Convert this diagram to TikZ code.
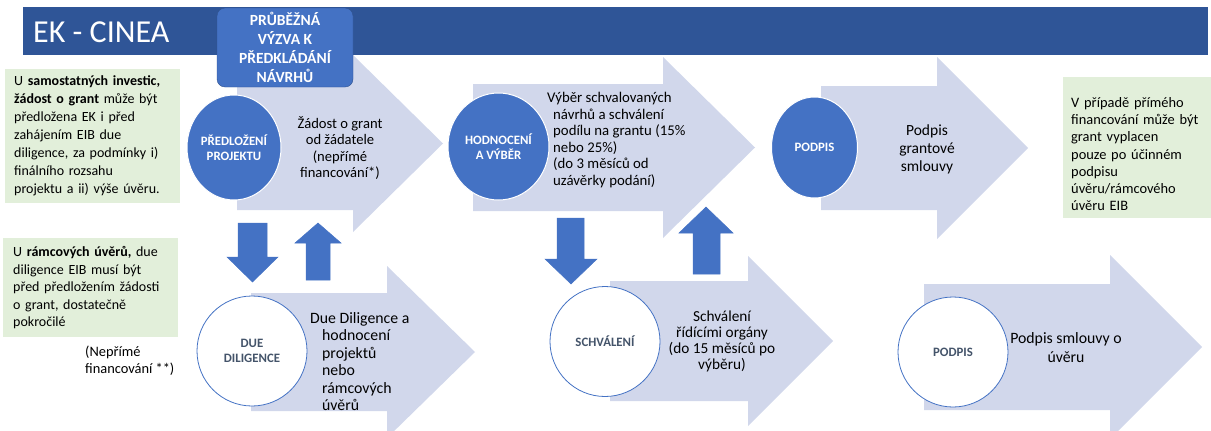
\documentclass[tikz,border=0pt]{standalone}
\usepackage{fontspec}
\setmainfont{Carlito}
\usetikzlibrary{shapes.geometric}

\definecolor{titleblue}{RGB}{47,85,151}
\definecolor{accentblue}{RGB}{68,114,196}
\definecolor{boxedge}{RGB}{47,82,143}
\definecolor{arrowlav}{RGB}{209,215,235}
\definecolor{notegreen}{RGB}{226,239,218}
\definecolor{slate}{RGB}{68,84,106}

\tikzset{
    bigarrow/.style={fill=arrowlav},
    blockarrow/.style={fill=accentblue, draw=accentblue, line width=0.5pt},
    fullcirc/.style={ellipse, fill=accentblue, draw=white, line width=1pt, text=white,
        inner sep=0pt, align=center, font=\bfseries\fontsize{12.8}{15.5}\selectfont},
    opencirc/.style={ellipse, fill=white, draw=accentblue, line width=0.8pt, text=slate,
        inner sep=0pt, minimum width=110pt, minimum height=110pt, align=center,
        font=\bfseries\fontsize{12.8}{15.5}\selectfont},
    notebox/.style={fill=notegreen, anchor=north west, align=left, inner ysep=0pt},
    steptext/.style={align=center, inner sep=0pt, font=\fontsize{14.6}{16.5}\selectfont},
}

\begin{document}
\begin{tikzpicture}[x=1pt, y=-1pt]
    \useasboundingbox (0,0) rectangle (1211,431);
    % title bar
    \fill[titleblue] (23,7) rectangle (1208,55);
    \node[anchor=west, text=white, font=\fontsize{32}{36}\selectfont, inner sep=0pt] (title) at (33,32) {EK - CINEA};

    % big arrows, top row
    \fill[bigarrow] (237,77) -- (353,77) -- (353,55) -- (443,143.5) -- (353,232) -- (353,210) -- (237,210) -- cycle;
    \fill[bigarrow] (473,84) -- (663,84) -- (663,57) -- (755,147.5) -- (663,238) -- (663,211) -- (473,211) -- cycle;
    \fill[bigarrow] (821,86) -- (937,86) -- (937,57) -- (1028,148) -- (937,239) -- (937,210) -- (821,210) -- cycle;
    % big arrows, bottom row
    \fill[bigarrow] (251,293) -- (387,293) -- (387,266) -- (475,352) -- (387,438) -- (387,411) -- (251,411) -- cycle;
    \fill[bigarrow] (610,281) -- (748,281) -- (748,256) -- (833,341) -- (748,426) -- (748,401) -- (610,401) -- cycle;
    \fill[bigarrow] (924,284) -- (1110,284) -- (1110,255) -- (1202,347) -- (1110,439) -- (1110,410) -- (924,410) -- cycle;

    % call box
    \node[fill=accentblue, draw=boxedge, rounded corners=8pt, minimum width=136pt, minimum height=79pt,
        text=white, align=center, inner sep=0pt, font=\bfseries\fontsize{15.5}{19}\selectfont] (call) at (285,47.5)
        {PRŮBĚŽNÁ\\VÝZVA K\\PŘEDKLÁDÁNÍ\\NÁVRHŮ};

    % circles
    \node[fullcirc, minimum width=94pt, minimum height=105pt] (submit) at (234,147.5) {PŘEDLOŽENÍ\\PROJEKTU};
    \node[fullcirc, minimum width=101pt, minimum height=107pt] (select) at (498.5,146.5) {HODNOCENÍ\\A VÝBĚR};
    \node[fullcirc, minimum width=86pt, minimum height=101pt] (sign) at (814.5,147.5) {PODPIS};
    \node[opencirc] (dd) at (252,351) {DUE\\DILIGENCE};
    \node[opencirc] (approve) at (605,341.5) {SCHVÁLENÍ};
    \node[opencirc] (loansign) at (953,352) {PODPIS};

    % arrow texts
    \node[steptext] (submittext) at (340,148) {Žádost o grant\\od žádatele\\(nepřímé\\financování*)};
    \node[steptext, align=left, anchor=west, font=\fontsize{14.8}{16.5}\selectfont] (selecttext) at (547,140)
        {Výběr schvalovaných\\\hspace*{6pt}návrhů a schválení\\\hspace*{6pt}podílu na grantu (15\%\\\hspace*{6pt}nebo 25\%)\\\hspace*{6pt}(do 3 měsíců od\\\hspace*{6pt}uzávěrky podání)};
    \node[steptext, font=\fontsize{15.5}{18}\selectfont] (signtext) at (927,149) {Podpis\\grantové\\smlouvy};
    \node[steptext, align=left, anchor=west, font=\fontsize{15.8}{17.4}\selectfont] (ddtext) at (310,361.5)
        {Due Diligence a\\\hspace*{12pt}hodnocení\\\hspace*{12pt}projektů\\\hspace*{12pt}nebo\\\hspace*{12pt}rámcových\\\hspace*{12pt}úvěrů};
    \node[steptext, font=\fontsize{15.3}{16}\selectfont] (approvetext) at (722,341.5) {Schválení\\řídícími orgány\\(do 15 měsíců po\\výběru)};
    \node[steptext, font=\fontsize{15.8}{19}\selectfont] (loansigntext) at (1066,347.5) {Podpis smlouvy o\\úvěru};

    % notes
    \node[notebox, inner xsep=9pt, text width=157pt, minimum height=134pt, font=\fontsize{14}{18}\selectfont] (standalone) at (5,69)
        {U {\bfseries samostatných investic,}\\{\bfseries žádost o grant} může být\\předložena EK i před\\zahájením EIB due\\diligence, za podmínky i)\\finálního rozsahu\\projektu a ii) výše úvěru.};
    \node[notebox, inner xsep=10pt, text width=155pt, minimum height=99pt, font=\fontsize{14}{17.5}\selectfont] (framework) at (3,238)
        {U {\bfseries rámcových úvěrů,} due\\diligence EIB musí být\\před předložením žádosti\\o grant, dostatečně\\pokročilé};
    \node[align=left, anchor=west, inner sep=0pt, font=\fontsize{14.4}{17}\selectfont] (indirect) at (85,360.5)
        {(Nepřímé\\financování **)};
    \node[notebox, inner xsep=8pt, text width=132pt, minimum height=141pt, font=\fontsize{14.4}{17.2}\selectfont] (direct) at (1063,77)
        {\rule{0pt}{23pt}V případě přímého\\financování může být\\grant vyplacen\\pouze po účinném\\podpisu\\úvěru/rámcového\\úvěru EIB};

    % block arrows
    \draw[blockarrow] (238,223) -- (267,223) -- (267,257) -- (278,257) -- (252.5,282) -- (227,257) -- (238,257) -- cycle;
    \draw[blockarrow] (306,280) -- (330,280) -- (330,243) -- (341,243) -- (318,223) -- (295,243) -- (306,243) -- cycle;
    \draw[blockarrow] (557,218) -- (584,218) -- (584,259) -- (597,259) -- (571,284) -- (545,259) -- (557,259) -- cycle;
    \draw[blockarrow] (693,274) -- (720,274) -- (720,233) -- (733,233) -- (706,207) -- (679,233) -- (693,233) -- cycle;
\end{tikzpicture}
\end{document}
